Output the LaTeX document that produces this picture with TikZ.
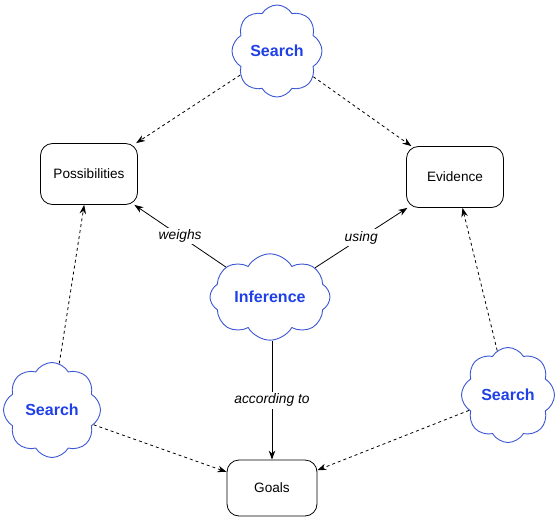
\documentclass[tikz,border=0pt]{standalone}
\usepackage{fontspec}
\setmainfont{Liberation Sans}
\usetikzlibrary{arrows.meta,shapes.symbols}
\definecolor{cloudline}{HTML}{3A56D4}
\definecolor{cloudtext}{HTML}{1F40E6}

\begin{document}
\begin{tikzpicture}[x=1pt, y=-1pt,
    box/.style={draw, rounded corners=12pt, line width=0.8pt, minimum width=97pt, minimum height=61pt, font=\fontsize{13.6}{15}\selectfont},
    puff/.style={cloud, cloud puffs=8, cloud puff arc=120, draw=cloudline, line width=0.9pt, text=cloudtext, inner sep=0pt, font=\fontsize{16}{18}\selectfont\bfseries},
    link/.style={line width=0.8pt, -{Stealth[length=9pt,width=6.5pt]}},
    dlink/.style={link, dash pattern=on 3pt off 3pt},
    lbl/.style={fill=white, inner sep=2pt, font=\fontsize{13.8}{15}\selectfont\itshape}]
    \useasboundingbox (0,0) rectangle (558,520);
    \node[box] (poss) at (89,174) {Possibilities};
    \node[box] (evid) at (455,177) {Evidence};
    \node[box, minimum width=90pt, minimum height=56pt] (goals) at (272,488) {Goals};
    \node[puff, aspect=1, minimum width=90pt, minimum height=92pt] (stop) at (277,51) {Search};
    \node[puff, aspect=1.45, minimum width=120pt, minimum height=83pt] (infer) at (270,297) {Inference};
    \node[puff, aspect=1, minimum width=97pt, minimum height=95pt] (sleft) at (52,410) {Search};
    \node[puff, aspect=1, minimum width=93pt, minimum height=95pt] (sright) at (508,395) {Search};
        \draw[link] (infer) -- node[lbl] {weighs} (poss);
        \draw[link] (infer) -- node[lbl] {using} (evid);
        \draw[link] (infer.south -| goals.north) -- node[lbl] {according to} (goals);
        \draw[dlink] (stop) -- (poss);
        \draw[dlink] (stop) -- (evid);
        \draw[dlink] (sleft) -- (poss);
        \draw[dlink] (sleft) -- (goals);
        \draw[dlink] (sright) -- (evid);
        \draw[dlink] (sright) -- (goals);
\end{tikzpicture}
\end{document}
